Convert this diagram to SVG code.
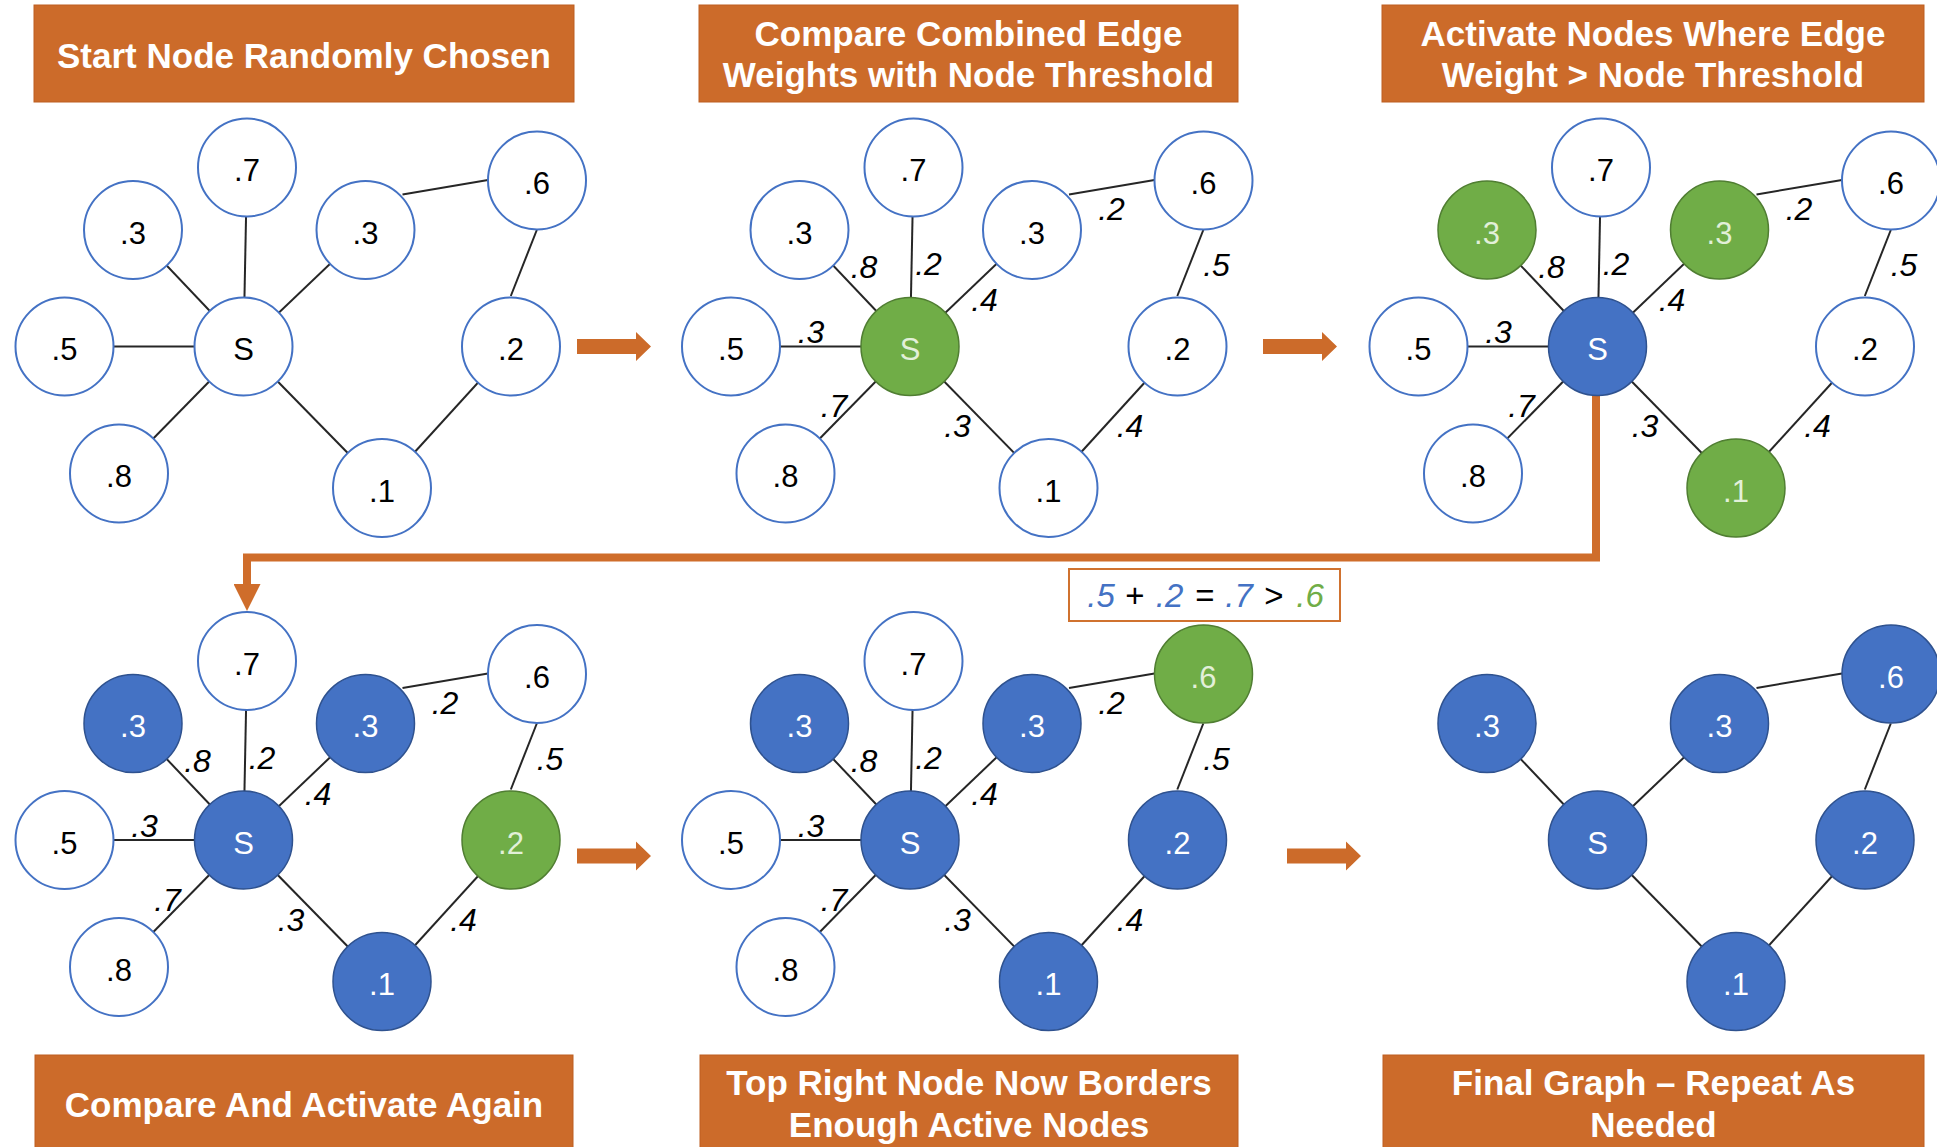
<svg xmlns="http://www.w3.org/2000/svg" xmlns:xlink="http://www.w3.org/1999/xlink" width="1937" height="1147" viewBox="0 0 1937 1147">
  <style>
    .box { fill: #CC6B2A; stroke: #BD5F20; stroke-width: 1; }
    .ttl { font-family: "Liberation Sans", Arial, Helvetica, sans-serif; font-weight: bold; font-size: 35px; fill: #FFFFFF; text-anchor: middle; }
    .edge { stroke: #262626; stroke-width: 2; fill: none; }
    .elbl { font-family: "Liberation Sans", Arial, Helvetica, sans-serif; font-style: italic; font-size: 32px; fill: #000000; text-anchor: middle; }
    .node text { font-family: "Liberation Sans", Arial, Helvetica, sans-serif; font-size: 31px; text-anchor: middle; }
    .nw circle { fill: #FFFFFF; stroke: #4472C4; stroke-width: 2; }
    .nw text { fill: #000000; }
    .ng circle { fill: #70AD47; stroke: #507E32; stroke-width: 1.5; }
    .ng text { fill: #E2F0D9; }
    .nb circle { fill: #4472C4; stroke: #2F528F; stroke-width: 1.5; }
    .nb text { fill: #FFFFFF; }
    .flow { fill: #CC6B2A; }
    .flowline { stroke: #CF6D2B; stroke-width: 8; fill: none; }
    .eq { font-family: "Liberation Sans", Arial, Helvetica, sans-serif; font-size: 33px; text-anchor: middle; }
    .eq .v { font-style: italic; fill: #4472C4; }
    .eq .g { font-style: italic; fill: #70AD47; }
    .eq .o { fill: #000000; }
  </style>
  <defs>
    <!-- full edge set of the example graph, panel-local coordinates -->
    <g id="edges-full">
      <line class="edge" x1="243.5" y1="346.5" x2="64.5" y2="346.5"/>
      <line class="edge" x1="243.5" y1="346.5" x2="133" y2="230"/>
      <line class="edge" x1="243.5" y1="346.5" x2="247" y2="167.5"/>
      <line class="edge" x1="243.5" y1="346.5" x2="365.5" y2="230"/>
      <line class="edge" x1="243.5" y1="346.5" x2="119" y2="473.5"/>
      <line class="edge" x1="243.5" y1="346.5" x2="382" y2="488"/>
      <line class="edge" x1="402.5" y1="194.5" x2="488" y2="180"/>
      <line class="edge" x1="536.8" y1="230" x2="510.8" y2="296"/>
      <line class="edge" x1="511" y1="346.5" x2="382" y2="488"/>
    </g>
    <!-- edges kept in the final graph -->
    <g id="edges-final">
      <line class="edge" x1="243.5" y1="346.5" x2="133" y2="230"/>
      <line class="edge" x1="243.5" y1="346.5" x2="365.5" y2="230"/>
      <line class="edge" x1="243.5" y1="346.5" x2="382" y2="488"/>
      <line class="edge" x1="402.5" y1="194.5" x2="488" y2="180"/>
      <line class="edge" x1="536.8" y1="230" x2="510.8" y2="296"/>
      <line class="edge" x1="511" y1="346.5" x2="382" y2="488"/>
    </g>
    <!-- edge weights -->
    <g id="edge-weights">
      <text class="elbl" x="197.5" y="278">.8</text>
      <text class="elbl" x="262" y="275">.2</text>
      <text class="elbl" x="318" y="311">.4</text>
      <text class="elbl" x="144.5" y="343">.3</text>
      <text class="elbl" x="167.5" y="417">.7</text>
      <text class="elbl" x="291" y="437">.3</text>
      <text class="elbl" x="445" y="220">.2</text>
      <text class="elbl" x="550" y="276">.5</text>
      <text class="elbl" x="463.5" y="437">.4</text>
    </g>
    <!-- block arrow between steps -->
    <path id="step-arrow" class="flow" d="M0,-7.5 H59 V-14.5 L74,0 L59,14.5 V7.5 H0 Z"/>
    <marker id="flow-head" markerUnits="userSpaceOnUse" viewBox="0 0 27 27" markerWidth="27" markerHeight="27" refX="0" refY="13.5" orient="auto">
      <path d="M0,0 L27,13.5 L0,27 Z" fill="#CF6D2B"/>
    </marker>
  </defs>

  <!-- step titles -->
  <g id="titles">
    <g id="title-1"><rect class="box" x="34" y="5" width="540" height="97"/><text class="ttl" x="304" y="68">Start Node Randomly Chosen</text></g>
    <g id="title-2"><rect class="box" x="699" y="5" width="539" height="97"/><text class="ttl" x="968.5" y="46">Compare Combined Edge</text><text class="ttl" x="968.5" y="87">Weights with Node Threshold</text></g>
    <g id="title-3"><rect class="box" x="1382" y="5" width="542" height="97"/><text class="ttl" x="1653" y="46">Activate Nodes Where Edge</text><text class="ttl" x="1653" y="87">Weight &gt; Node Threshold</text></g>
    <g id="title-4"><rect class="box" x="35" y="1055" width="538" height="100"/><text class="ttl" x="304" y="1117">Compare And Activate Again</text></g>
    <g id="title-5"><rect class="box" x="700" y="1055" width="538" height="100"/><text class="ttl" x="969" y="1095">Top Right Node Now Borders</text><text class="ttl" x="969" y="1137">Enough Active Nodes</text></g>
    <g id="title-6"><rect class="box" x="1383" y="1055" width="541" height="100"/><text class="ttl" x="1653.5" y="1095">Final Graph – Repeat As</text><text class="ttl" x="1653.5" y="1137">Needed</text></g>
  </g>

  <!-- connectors: graph edges, weights and the step arrows -->
  <g id="connectors">
    <use xlink:href="#edges-full" href="#edges-full"/>
    <use xlink:href="#edges-full" href="#edges-full" transform="translate(666.5,0)"/>
    <use xlink:href="#edge-weights" href="#edge-weights" transform="translate(666.5,0)"/>
    <use xlink:href="#edges-full" href="#edges-full" transform="translate(1354,0)"/>
    <use xlink:href="#edge-weights" href="#edge-weights" transform="translate(1354,0)"/>
    <use xlink:href="#edges-full" href="#edges-full" transform="translate(0,493.5)"/>
    <use xlink:href="#edge-weights" href="#edge-weights" transform="translate(0,493.5)"/>
    <use xlink:href="#edges-full" href="#edges-full" transform="translate(666.5,493.5)"/>
    <use xlink:href="#edge-weights" href="#edge-weights" transform="translate(666.5,493.5)"/>
    <use xlink:href="#edges-final" href="#edges-final" transform="translate(1354,493.5)"/>

    <use id="arrow-1-2" xlink:href="#step-arrow" href="#step-arrow" transform="translate(577,346.5)"/>
    <use id="arrow-2-3" xlink:href="#step-arrow" href="#step-arrow" transform="translate(1263,346.5)"/>
    <use id="arrow-4-5" xlink:href="#step-arrow" href="#step-arrow" transform="translate(577,856)"/>
    <use id="arrow-5-6" xlink:href="#step-arrow" href="#step-arrow" transform="translate(1287,856)"/>
    <path id="arrow-3-4" class="flowline" d="M1596,396 V557.5 H247 V584" marker-end="url(#flow-head)"/>
  </g>

  <!-- step 1: all nodes inactive -->
  <g id="panel-1">
    <g id="p1-n7" class="node nw"><circle cx="247" cy="167.5" r="49"/><text x="247" y="181">.7</text></g>
    <g id="p1-n3a" class="node nw"><circle cx="133" cy="230" r="49"/><text x="133" y="243.5">.3</text></g>
    <g id="p1-n3b" class="node nw"><circle cx="365.5" cy="230" r="49"/><text x="365.5" y="243.5">.3</text></g>
    <g id="p1-n6" class="node nw"><circle cx="537" cy="180.5" r="49"/><text x="537" y="194">.6</text></g>
    <g id="p1-n5" class="node nw"><circle cx="64.5" cy="346.5" r="49"/><text x="64.5" y="360">.5</text></g>
    <g id="p1-s" class="node nw"><circle cx="243.5" cy="346.5" r="49"/><text x="243.5" y="360">S</text></g>
    <g id="p1-n2" class="node nw"><circle cx="511" cy="346.5" r="49"/><text x="511" y="360">.2</text></g>
    <g id="p1-n8" class="node nw"><circle cx="119" cy="473.5" r="49"/><text x="119" y="487">.8</text></g>
    <g id="p1-n1" class="node nw"><circle cx="382" cy="488" r="49"/><text x="382" y="501.5">.1</text></g>
  </g>

  <!-- step 2: start node being compared -->
  <g id="panel-2" transform="translate(666.5,0)">
    <g id="p2-n7" class="node nw"><circle cx="247" cy="167.5" r="49"/><text x="247" y="181">.7</text></g>
    <g id="p2-n3a" class="node nw"><circle cx="133" cy="230" r="49"/><text x="133" y="243.5">.3</text></g>
    <g id="p2-n3b" class="node nw"><circle cx="365.5" cy="230" r="49"/><text x="365.5" y="243.5">.3</text></g>
    <g id="p2-n6" class="node nw"><circle cx="537" cy="180.5" r="49"/><text x="537" y="194">.6</text></g>
    <g id="p2-n5" class="node nw"><circle cx="64.5" cy="346.5" r="49"/><text x="64.5" y="360">.5</text></g>
    <g id="p2-s" class="node ng"><circle cx="243.5" cy="346.5" r="49"/><text x="243.5" y="360">S</text></g>
    <g id="p2-n2" class="node nw"><circle cx="511" cy="346.5" r="49"/><text x="511" y="360">.2</text></g>
    <g id="p2-n8" class="node nw"><circle cx="119" cy="473.5" r="49"/><text x="119" y="487">.8</text></g>
    <g id="p2-n1" class="node nw"><circle cx="382" cy="488" r="49"/><text x="382" y="501.5">.1</text></g>
  </g>

  <!-- step 3: first activation -->
  <g id="panel-3" transform="translate(1354,0)">
    <g id="p3-n7" class="node nw"><circle cx="247" cy="167.5" r="49"/><text x="247" y="181">.7</text></g>
    <g id="p3-n3a" class="node ng"><circle cx="133" cy="230" r="49"/><text x="133" y="243.5">.3</text></g>
    <g id="p3-n3b" class="node ng"><circle cx="365.5" cy="230" r="49"/><text x="365.5" y="243.5">.3</text></g>
    <g id="p3-n6" class="node nw"><circle cx="537" cy="180.5" r="49"/><text x="537" y="194">.6</text></g>
    <g id="p3-n5" class="node nw"><circle cx="64.5" cy="346.5" r="49"/><text x="64.5" y="360">.5</text></g>
    <g id="p3-s" class="node nb"><circle cx="243.5" cy="346.5" r="49"/><text x="243.5" y="360">S</text></g>
    <g id="p3-n2" class="node nw"><circle cx="511" cy="346.5" r="49"/><text x="511" y="360">.2</text></g>
    <g id="p3-n8" class="node nw"><circle cx="119" cy="473.5" r="49"/><text x="119" y="487">.8</text></g>
    <g id="p3-n1" class="node ng"><circle cx="382" cy="488" r="49"/><text x="382" y="501.5">.1</text></g>
  </g>

  <!-- step 4: second activation -->
  <g id="panel-4" transform="translate(0,493.5)">
    <g id="p4-n7" class="node nw"><circle cx="247" cy="167.5" r="49"/><text x="247" y="181">.7</text></g>
    <g id="p4-n3a" class="node nb"><circle cx="133" cy="230" r="49"/><text x="133" y="243.5">.3</text></g>
    <g id="p4-n3b" class="node nb"><circle cx="365.5" cy="230" r="49"/><text x="365.5" y="243.5">.3</text></g>
    <g id="p4-n6" class="node nw"><circle cx="537" cy="180.5" r="49"/><text x="537" y="194">.6</text></g>
    <g id="p4-n5" class="node nw"><circle cx="64.5" cy="346.5" r="49"/><text x="64.5" y="360">.5</text></g>
    <g id="p4-s" class="node nb"><circle cx="243.5" cy="346.5" r="49"/><text x="243.5" y="360">S</text></g>
    <g id="p4-n2" class="node ng"><circle cx="511" cy="346.5" r="49"/><text x="511" y="360">.2</text></g>
    <g id="p4-n8" class="node nw"><circle cx="119" cy="473.5" r="49"/><text x="119" y="487">.8</text></g>
    <g id="p4-n1" class="node nb"><circle cx="382" cy="488" r="49"/><text x="382" y="501.5">.1</text></g>
  </g>

  <!-- step 5: top right node reaches its threshold -->
  <g id="panel-5" transform="translate(666.5,493.5)">
    <g id="p5-n7" class="node nw"><circle cx="247" cy="167.5" r="49"/><text x="247" y="181">.7</text></g>
    <g id="p5-n3a" class="node nb"><circle cx="133" cy="230" r="49"/><text x="133" y="243.5">.3</text></g>
    <g id="p5-n3b" class="node nb"><circle cx="365.5" cy="230" r="49"/><text x="365.5" y="243.5">.3</text></g>
    <g id="p5-n6" class="node ng"><circle cx="537" cy="180.5" r="49"/><text x="537" y="194">.6</text></g>
    <g id="p5-n5" class="node nw"><circle cx="64.5" cy="346.5" r="49"/><text x="64.5" y="360">.5</text></g>
    <g id="p5-s" class="node nb"><circle cx="243.5" cy="346.5" r="49"/><text x="243.5" y="360">S</text></g>
    <g id="p5-n2" class="node nb"><circle cx="511" cy="346.5" r="49"/><text x="511" y="360">.2</text></g>
    <g id="p5-n8" class="node nw"><circle cx="119" cy="473.5" r="49"/><text x="119" y="487">.8</text></g>
    <g id="p5-n1" class="node nb"><circle cx="382" cy="488" r="49"/><text x="382" y="501.5">.1</text></g>
  </g>

  <!-- threshold sum note -->
  <g id="sum-note">
    <rect x="1069" y="569" width="271" height="52" fill="#FFFFFF" stroke="#D0722F" stroke-width="2"/>
    <text class="eq" y="607">
      <tspan class="v" x="1101">.5</tspan><tspan class="o" x="1135">+</tspan><tspan class="v" x="1169.5">.2</tspan><tspan class="o" x="1205">=</tspan><tspan class="v" x="1239">.7</tspan><tspan class="o" x="1274">&gt;</tspan><tspan class="g" x="1310">.6</tspan>
    </text>
  </g>

  <!-- step 6: final active graph -->
  <g id="panel-6" transform="translate(1354,493.5)">
    <g id="p6-n3a" class="node nb"><circle cx="133" cy="230" r="49"/><text x="133" y="243.5">.3</text></g>
    <g id="p6-n3b" class="node nb"><circle cx="365.5" cy="230" r="49"/><text x="365.5" y="243.5">.3</text></g>
    <g id="p6-n6" class="node nb"><circle cx="537" cy="180.5" r="49"/><text x="537" y="194">.6</text></g>
    <g id="p6-s" class="node nb"><circle cx="243.5" cy="346.5" r="49"/><text x="243.5" y="360">S</text></g>
    <g id="p6-n2" class="node nb"><circle cx="511" cy="346.5" r="49"/><text x="511" y="360">.2</text></g>
    <g id="p6-n1" class="node nb"><circle cx="382" cy="488" r="49"/><text x="382" y="501.5">.1</text></g>
  </g>
</svg>
